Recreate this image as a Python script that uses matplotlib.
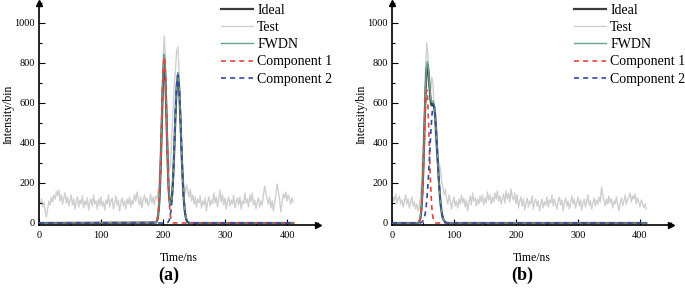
import matplotlib.pyplot as plt
import numpy as np
from matplotlib.ticker import MultipleLocator

plt.rcParams["font.family"] = ["Liberation Serif", "DejaVu Serif"]

# measured test signal, sampled every 2 ns from 0 to 410 ns
test_t = np.arange(0, 412, 2)
test_a = [
    115, 95, 120, 80, 105, 60, 30, 75, 110, 90,
    130, 105, 140, 120, 160, 135, 165, 110, 140, 95,
    125, 150, 100, 130, 85, 115, 140, 90, 120, 70,
    105, 130, 80, 115, 95, 135, 75, 110, 90, 125,
    65, 100, 120, 85, 140, 95, 110, 70, 120, 90,
    130, 85, 105, 65, 115, 95, 140, 80, 110, 125,
    70, 100, 135, 90, 115, 60, 105, 125, 85, 110,
    70, 120, 95, 130, 80, 115, 95, 140, 110, 155,
    120, 90, 130, 75, 115, 140, 100, 125, 85, 110,
    145, 100, 130, 90, 135, 120, 150, 220, 380, 600,
    820, 935, 820, 560, 330, 260, 290, 420, 560, 680,
    760, 860, 880, 760, 560, 380, 250, 180, 150, 190,
    160, 130, 170, 110, 140, 95, 130, 80, 120, 100,
    135, 75, 110, 90, 125, 60, 105, 130, 85, 115,
    95, 150, 100, 130, 80, 120, 165, 105, 140, 90,
    125, 70, 110, 130, 85, 115, 95, 140, 75, 105,
    125, 90, 130, 70, 110, 95, 150, 100, 120, 80,
    140, 105, 150, 90, 115, 70, 105, 125, 80, 110,
    90, 140, 185, 150, 120, 95, 130, 75, 110, 60,
    100, 140, 195, 160, 120, 55, 100, 145, 125, 155,
    110, 140, 120, 95, 125, 105,
]
test_b = [
    90, 130, 110, 145, 100, 120, 135, 95, 115, 80,
    110, 140, 95, 120, 75, 100, 130, 85, 105, 70,
    95, 60, 80, 130, 210, 380, 560, 760, 900, 840,
    690, 650, 730, 700, 560, 430, 330, 290, 300, 270,
    210, 180, 140, 170, 120, 95, 140, 110, 70, 105,
    130, 85, 110, 75, 120, 95, 140, 100, 125, 80,
    115, 60, 100, 135, 90, 150, 110, 125, 85, 120,
    95, 135, 105, 140, 90, 125, 100, 155, 115, 140,
    95, 130, 105, 150, 120, 160, 110, 135, 95, 125,
    145, 100, 160, 120, 150, 105, 170, 130, 115, 150,
    95, 140, 75, 110, 130, 85, 120, 65, 100, 125,
    80, 110, 95, 135, 70, 105, 120, 85, 110, 60,
    95, 120, 75, 105, 90, 130, 80, 115, 100, 140,
    85, 120, 95, 70, 110, 130, 90, 115, 60, 100,
    125, 85, 110, 70, 100, 135, 95, 120, 75, 105,
    130, 85, 115, 65, 100, 120, 80, 105, 140, 90,
    110, 70, 100, 125, 85, 115, 95, 130, 105, 180,
    140, 110, 85, 120, 95, 135, 100, 120, 75, 110,
    95, 130, 90, 60, 100, 125, 85, 110, 140, 95,
    120, 130, 150, 105, 135, 120, 145, 95, 125, 105,
    80, 115, 100, 75, 95, 70,
]

# pulse region (1 ns steps); outside it the curves sit at 0
pulse_t_a = np.arange(188, 245)
ideal_a = [
    2, 4, 9, 18, 35, 64, 108, 173, 260, 366,
    485, 604, 706, 775, 800, 775, 706, 604, 486, 368,
    264, 181, 128, 100, 90, 96, 118, 155, 208, 275,
    355, 443, 530, 610, 674, 716, 730, 716, 674, 610,
    530, 443, 355, 274, 203, 144, 99, 65, 41, 25,
    14, 8, 4, 2, 0, 0, 0,
]
fwdn_a = [
    2, 5, 10, 19, 37, 68, 114, 183, 275, 386,
    512, 638, 746, 818, 845, 818, 746, 638, 513, 388,
    279, 191, 132, 102, 92, 98, 122, 160, 215, 282,
    366, 456, 546, 628, 694, 737, 752, 737, 694, 628,
    546, 456, 366, 282, 209, 148, 102, 67, 42, 26,
    14, 8, 4, 2, 0, 0, 0,
]
comp1_a = [
    2, 4, 9, 19, 36, 66, 112, 180, 270, 380,
    503, 627, 732, 804, 830, 804, 732, 627, 503, 380,
    270, 180, 112, 66, 36, 19, 9, 4, 2, 0,
    0, 0, 0, 0, 0, 0, 0, 0, 0, 0,
    0, 0, 0, 0, 0, 0, 0, 0, 0, 0,
    0, 0, 0, 0, 0, 0, 0,
]
comp2_a = [
    0, 0, 0, 0, 0, 0, 0, 0, 0, 0,
    0, 0, 0, 0, 0, 0, 0, 0, 1, 2,
    4, 8, 14, 25, 42, 66, 100, 146, 206, 278,
    360, 449, 537, 618, 683, 726, 740, 726, 683, 618,
    537, 449, 360, 278, 206, 146, 100, 66, 42, 25,
    14, 8, 4, 2, 1, 0, 0,
]

pulse_t_b = np.arange(38, 95)
ideal_b = [
    0, 0, 0, 0, 1, 3, 7, 15, 30, 55,
    94, 151, 227, 321, 429, 541, 643, 724, 775, 791,
    779, 745, 702, 662, 620, 598, 588, 592, 596, 592,
    580, 561, 522, 472, 417, 358, 299, 243, 192, 147,
    110, 80, 56, 39, 26, 17, 11, 7, 4, 2,
    1, 0, 0, 0, 0, 0, 0,
]
fwdn_b = [
    0, 0, 0, 1, 2, 4, 9, 18, 34, 60,
    100, 160, 238, 335, 445, 558, 660, 742, 792, 806,
    792, 756, 712, 670, 636, 612, 604, 606, 610, 606,
    592, 566, 526, 476, 420, 360, 300, 244, 193, 148,
    111, 81, 57, 39, 26, 17, 11, 7, 4, 2,
    1, 0, 0, 0, 0, 0, 0,
]
comp1_b = [
    0, 0, 0, 0, 1, 3, 7, 15, 29, 53,
    90, 144, 216, 304, 403, 502, 587, 644, 665, 644,
    587, 502, 403, 304, 216, 144, 90, 53, 29, 15,
    7, 3, 1, 0, 0, 0, 0, 0, 0, 0,
    0, 0, 0, 0, 0, 0, 0, 0, 0, 0,
    0, 0, 0, 0, 0, 0, 0,
]
comp2_b = [
    0, 0, 0, 0, 0, 0, 0, 0, 1, 2,
    4, 7, 11, 17, 26, 39, 56, 80, 110, 147,
    192, 243, 299, 358, 417, 472, 521, 558, 582, 590,
    582, 558, 521, 472, 417, 358, 299, 243, 192, 147,
    110, 80, 56, 39, 26, 17, 11, 7, 4, 2,
    1, 0, 0, 0, 0, 0, 0,
]

x_end = 410


def full(t, v):
    # pad a pulse with the zero baseline out to both ends of the record
    return np.concatenate([[0], t, [x_end]]), np.concatenate([[0], v, [0]])


panels = [
    ("(a)", test_a, pulse_t_a, ideal_a, fwdn_a, comp1_a, comp2_a),
    ("(b)", test_b, pulse_t_b, ideal_b, fwdn_b, comp1_b, comp2_b),
]

fig = plt.figure(figsize=(6.85, 2.88), dpi=100)
lefts = [39 / 685, 392 / 685]
legend_x = [221 / 685, 574 / 685]

for i, (tag, test, pt, ideal, fwdn, c1, c2) in enumerate(panels):
    ax = fig.add_axes([lefts[i], 63 / 288, 279 / 685, 222 / 288])
    ax.plot(test_t, test, color="#cfcfcf", lw=1.0, label="Test", zorder=1)
    ax.plot(*full(pt, ideal), color="#3c3c3c", lw=1.6, label="Ideal", zorder=2)
    ax.plot(*full(pt, fwdn), color="#68a495", lw=1.0, label="FWDN", zorder=3)
    ax.plot(*full(pt, c1), color="#e2463c", lw=1.2, ls=(0, (3, 2.5)),
            label="Component 1", zorder=4)
    ax.plot(*full(pt, c2), color="#34489e", lw=1.2, ls=(0, (3, 2.5)),
            label="Component 2", zorder=5)

    ax.set_xlim(0, 450)
    ax.set_ylim(-10, 1100)
    ax.set_xticks([0, 100, 200, 300, 400])
    ax.set_yticks([0, 200, 400, 600, 800, 1000])
    ax.xaxis.set_minor_locator(MultipleLocator(50))
    ax.yaxis.set_minor_locator(MultipleLocator(100))
    ax.tick_params(which="both", direction="in", labelsize=7.5, width=0.8)
    ax.tick_params(which="major", length=4)
    ax.tick_params(axis="x", which="major", pad=4)
    ax.tick_params(axis="y", which="major", pad=3)
    ax.tick_params(which="minor", length=2.5)
    for s in ["top", "right"]:
        ax.spines[s].set_visible(False)
    for s in ["left", "bottom"]:
        ax.spines[s].set_linewidth(1.2)
    ax.plot(1, 0, ">k", ms=5, transform=ax.transAxes, clip_on=False)
    ax.plot(0, 1, "^k", ms=5, transform=ax.transAxes, clip_on=False)

    ax.set_xlabel("Time/ns", fontsize=8.5, labelpad=9)
    ax.set_ylabel("Intensity/bin", fontsize=8.5)
    ax.yaxis.set_label_coords(-24 / 279, 0.5)

    handles, labels = ax.get_legend_handles_labels()
    order = [1, 0, 2, 3, 4]
    fig.legend([handles[k] for k in order], [labels[k] for k in order],
               loc="upper left", bbox_to_anchor=(legend_x[i], 1 - 4 / 288),
               frameon=False, fontsize=10, borderpad=0, borderaxespad=0,
               handlelength=2.3, handletextpad=0.3, labelspacing=0.3)

    fig.text(lefts[i] + (130 / 685), 1 - 275 / 288, tag,
             fontsize=13, fontweight="bold", ha="center", va="center")

fig.savefig("out.png", dpi=100)
